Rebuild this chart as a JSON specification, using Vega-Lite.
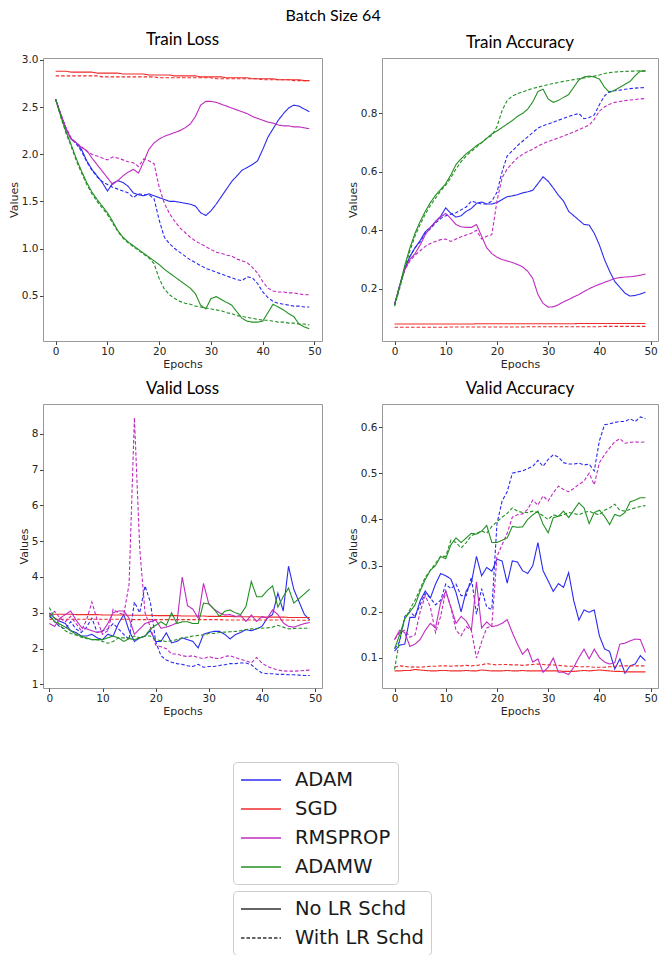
{
"$schema":"https://vega.github.io/schema/vega-lite/v6.json",
"padding":{"left":7,"top":8,"right":0,"bottom":0},
"background":"white",
"title":{"text":"Batch Size 64","anchor":"middle","font":"Lato","fontSize":16,"fontWeight":"normal","color":"#000","offset":6},
"datasets":{
"series":[{"k":"a1","opt":"ADAM","sch":"No LR Schd"},{"k":"a2","opt":"ADAM","sch":"With LR Schd"},{"k":"s1","opt":"SGD","sch":"No LR Schd"},{"k":"s2","opt":"SGD","sch":"With LR Schd"},{"k":"r1","opt":"RMSPROP","sch":"No LR Schd"},{"k":"r2","opt":"RMSPROP","sch":"With LR Schd"},{"k":"w1","opt":"ADAMW","sch":"No LR Schd"},{"k":"w2","opt":"ADAMW","sch":"With LR Schd"}],
"d":[
{"p":"TL","e":0,"a1":2.58,"a2":2.58,"s1":2.88,"s2":2.83,"r1":2.58,"r2":2.58,"w1":2.58,"w2":2.58},
{"p":"TL","e":1,"a1":2.42,"a2":2.42,"s1":2.88,"s2":2.83,"r1":2.42,"r2":2.42,"w1":2.40,"w2":2.39},
{"p":"TL","e":2,"a1":2.27,"a2":2.27,"s1":2.88,"s2":2.83,"r1":2.27,"r2":2.28,"w1":2.24,"w2":2.22},
{"p":"TL","e":3,"a1":2.16,"a2":2.16,"s1":2.87,"s2":2.83,"r1":2.16,"r2":2.17,"w1":2.10,"w2":2.08},
{"p":"TL","e":4,"a1":2.12,"a2":2.11,"s1":2.87,"s2":2.83,"r1":2.12,"r2":2.12,"w1":1.95,"w2":1.93},
{"p":"TL","e":5,"a1":2.05,"a2":2.03,"s1":2.87,"s2":2.83,"r1":2.07,"r2":2.08,"w1":1.82,"w2":1.80},
{"p":"TL","e":6,"a1":1.93,"a2":1.92,"s1":2.87,"s2":2.83,"r1":2.04,"r2":2.03,"w1":1.70,"w2":1.68},
{"p":"TL","e":7,"a1":1.84,"a2":1.83,"s1":2.87,"s2":2.83,"r1":1.96,"r2":2.00,"w1":1.60,"w2":1.58},
{"p":"TL","e":8,"a1":1.77,"a2":1.76,"s1":2.86,"s2":2.83,"r1":1.89,"r2":1.98,"w1":1.52,"w2":1.50},
{"p":"TL","e":9,"a1":1.70,"a2":1.71,"s1":2.86,"s2":2.82,"r1":1.82,"r2":1.96,"w1":1.45,"w2":1.43},
{"p":"TL","e":10,"a1":1.61,"a2":1.68,"s1":2.86,"s2":2.82,"r1":1.75,"r2":1.94,"w1":1.38,"w2":1.36},
{"p":"TL","e":11,"a1":1.69,"a2":1.65,"s1":2.86,"s2":2.82,"r1":1.68,"r2":1.97,"w1":1.29,"w2":1.27},
{"p":"TL","e":12,"a1":1.72,"a2":1.63,"s1":2.86,"s2":2.82,"r1":1.72,"r2":1.96,"w1":1.19,"w2":1.18},
{"p":"TL","e":13,"a1":1.70,"a2":1.61,"s1":2.85,"s2":2.82,"r1":1.77,"r2":1.94,"w1":1.12,"w2":1.11},
{"p":"TL","e":14,"a1":1.66,"a2":1.59,"s1":2.85,"s2":2.82,"r1":1.81,"r2":1.92,"w1":1.07,"w2":1.06},
{"p":"TL","e":15,"a1":1.59,"a2":1.54,"s1":2.85,"s2":2.82,"r1":1.84,"r2":1.91,"w1":1.03,"w2":1.02},
{"p":"TL","e":16,"a1":1.57,"a2":1.58,"s1":2.85,"s2":2.82,"r1":1.80,"r2":1.87,"w1":0.99,"w2":0.98},
{"p":"TL","e":17,"a1":1.56,"a2":1.57,"s1":2.85,"s2":2.82,"r1":1.92,"r2":1.95,"w1":0.95,"w2":0.94},
{"p":"TL","e":18,"a1":1.58,"a2":1.57,"s1":2.84,"s2":2.82,"r1":2.05,"r2":1.93,"w1":0.91,"w2":0.90},
{"p":"TL","e":19,"a1":1.56,"a2":1.53,"s1":2.84,"s2":2.82,"r1":2.12,"r2":1.90,"w1":0.87,"w2":0.84},
{"p":"TL","e":20,"a1":1.54,"a2":1.30,"s1":2.84,"s2":2.81,"r1":2.16,"r2":1.65,"w1":0.83,"w2":0.68},
{"p":"TL","e":21,"a1":1.52,"a2":1.12,"s1":2.84,"s2":2.81,"r1":2.19,"r2":1.48,"w1":0.78,"w2":0.57},
{"p":"TL","e":22,"a1":1.50,"a2":1.05,"s1":2.84,"s2":2.81,"r1":2.21,"r2":1.37,"w1":0.74,"w2":0.51},
{"p":"TL","e":23,"a1":1.50,"a2":1.00,"s1":2.83,"s2":2.81,"r1":2.23,"r2":1.29,"w1":0.70,"w2":0.47},
{"p":"TL","e":24,"a1":1.49,"a2":0.96,"s1":2.83,"s2":2.81,"r1":2.25,"r2":1.22,"w1":0.66,"w2":0.44},
{"p":"TL","e":25,"a1":1.48,"a2":0.92,"s1":2.83,"s2":2.81,"r1":2.28,"r2":1.17,"w1":0.62,"w2":0.42},
{"p":"TL","e":26,"a1":1.47,"a2":0.88,"s1":2.83,"s2":2.81,"r1":2.32,"r2":1.12,"w1":0.58,"w2":0.41},
{"p":"TL","e":27,"a1":1.45,"a2":0.85,"s1":2.83,"s2":2.81,"r1":2.40,"r2":1.08,"w1":0.52,"w2":0.39},
{"p":"TL","e":28,"a1":1.38,"a2":0.82,"s1":2.82,"s2":2.81,"r1":2.52,"r2":1.05,"w1":0.40,"w2":0.38},
{"p":"TL","e":29,"a1":1.35,"a2":0.79,"s1":2.82,"s2":2.81,"r1":2.56,"r2":1.02,"w1":0.36,"w2":0.37},
{"p":"TL","e":30,"a1":1.40,"a2":0.77,"s1":2.82,"s2":2.81,"r1":2.56,"r2":0.99,"w1":0.47,"w2":0.36},
{"p":"TL","e":31,"a1":1.47,"a2":0.75,"s1":2.82,"s2":2.80,"r1":2.55,"r2":0.96,"w1":0.49,"w2":0.35},
{"p":"TL","e":32,"a1":1.55,"a2":0.73,"s1":2.82,"s2":2.80,"r1":2.53,"r2":0.95,"w1":0.46,"w2":0.34},
{"p":"TL","e":33,"a1":1.63,"a2":0.71,"s1":2.81,"s2":2.80,"r1":2.51,"r2":0.93,"w1":0.43,"w2":0.32},
{"p":"TL","e":34,"a1":1.71,"a2":0.69,"s1":2.81,"s2":2.80,"r1":2.49,"r2":0.92,"w1":0.40,"w2":0.31},
{"p":"TL","e":35,"a1":1.77,"a2":0.67,"s1":2.81,"s2":2.80,"r1":2.47,"r2":0.89,"w1":0.33,"w2":0.29},
{"p":"TL","e":36,"a1":1.83,"a2":0.66,"s1":2.81,"s2":2.80,"r1":2.45,"r2":0.87,"w1":0.26,"w2":0.28},
{"p":"TL","e":37,"a1":1.86,"a2":0.70,"s1":2.81,"s2":2.80,"r1":2.43,"r2":0.85,"w1":0.23,"w2":0.27},
{"p":"TL","e":38,"a1":1.89,"a2":0.69,"s1":2.80,"s2":2.80,"r1":2.40,"r2":0.80,"w1":0.22,"w2":0.26},
{"p":"TL","e":39,"a1":1.93,"a2":0.63,"s1":2.80,"s2":2.80,"r1":2.38,"r2":0.74,"w1":0.22,"w2":0.25},
{"p":"TL","e":40,"a1":2.05,"a2":0.54,"s1":2.80,"s2":2.79,"r1":2.36,"r2":0.65,"w1":0.23,"w2":0.24},
{"p":"TL","e":41,"a1":2.18,"a2":0.48,"s1":2.80,"s2":2.79,"r1":2.34,"r2":0.58,"w1":0.32,"w2":0.24},
{"p":"TL","e":42,"a1":2.27,"a2":0.44,"s1":2.80,"s2":2.79,"r1":2.33,"r2":0.55,"w1":0.41,"w2":0.23},
{"p":"TL","e":43,"a1":2.36,"a2":0.42,"s1":2.79,"s2":2.79,"r1":2.31,"r2":0.54,"w1":0.38,"w2":0.22},
{"p":"TL","e":44,"a1":2.43,"a2":0.41,"s1":2.79,"s2":2.79,"r1":2.30,"r2":0.54,"w1":0.35,"w2":0.22},
{"p":"TL","e":45,"a1":2.49,"a2":0.40,"s1":2.79,"s2":2.79,"r1":2.30,"r2":0.53,"w1":0.31,"w2":0.21},
{"p":"TL","e":46,"a1":2.52,"a2":0.39,"s1":2.79,"s2":2.78,"r1":2.29,"r2":0.53,"w1":0.28,"w2":0.21},
{"p":"TL","e":47,"a1":2.51,"a2":0.39,"s1":2.79,"s2":2.78,"r1":2.29,"r2":0.52,"w1":0.20,"w2":0.20},
{"p":"TL","e":48,"a1":2.48,"a2":0.38,"s1":2.78,"s2":2.78,"r1":2.28,"r2":0.51,"w1":0.17,"w2":0.20},
{"p":"TL","e":49,"a1":2.45,"a2":0.38,"s1":2.78,"s2":2.78,"r1":2.27,"r2":0.51,"w1":0.15,"w2":0.19},
{"p":"TA","e":0,"a1":0.145,"a2":0.145,"s1":0.079,"s2":0.068,"r1":0.145,"r2":0.145,"w1":0.145,"w2":0.14},
{"p":"TA","e":1,"a1":0.21,"a2":0.21,"s1":0.079,"s2":0.068,"r1":0.21,"r2":0.21,"w1":0.21,"w2":0.20},
{"p":"TA","e":2,"a1":0.27,"a2":0.27,"s1":0.079,"s2":0.068,"r1":0.265,"r2":0.265,"w1":0.28,"w2":0.27},
{"p":"TA","e":3,"a1":0.31,"a2":0.31,"s1":0.079,"s2":0.068,"r1":0.30,"r2":0.295,"w1":0.34,"w2":0.33},
{"p":"TA","e":4,"a1":0.34,"a2":0.34,"s1":0.079,"s2":0.068,"r1":0.32,"r2":0.315,"w1":0.39,"w2":0.38},
{"p":"TA","e":5,"a1":0.365,"a2":0.36,"s1":0.079,"s2":0.068,"r1":0.35,"r2":0.33,"w1":0.43,"w2":0.42},
{"p":"TA","e":6,"a1":0.395,"a2":0.39,"s1":0.079,"s2":0.068,"r1":0.385,"r2":0.345,"w1":0.465,"w2":0.455},
{"p":"TA","e":7,"a1":0.41,"a2":0.405,"s1":0.079,"s2":0.068,"r1":0.41,"r2":0.355,"w1":0.495,"w2":0.485},
{"p":"TA","e":8,"a1":0.43,"a2":0.425,"s1":0.079,"s2":0.068,"r1":0.43,"r2":0.362,"w1":0.52,"w2":0.51},
{"p":"TA","e":9,"a1":0.448,"a2":0.44,"s1":0.079,"s2":0.068,"r1":0.445,"r2":0.368,"w1":0.54,"w2":0.535},
{"p":"TA","e":10,"a1":0.477,"a2":0.45,"s1":0.079,"s2":0.068,"r1":0.458,"r2":0.37,"w1":0.56,"w2":0.555},
{"p":"TA","e":11,"a1":0.458,"a2":0.455,"s1":0.079,"s2":0.069,"r1":0.44,"r2":0.362,"w1":0.59,"w2":0.58},
{"p":"TA","e":12,"a1":0.445,"a2":0.46,"s1":0.079,"s2":0.069,"r1":0.42,"r2":0.37,"w1":0.625,"w2":0.61},
{"p":"TA","e":13,"a1":0.45,"a2":0.47,"s1":0.079,"s2":0.069,"r1":0.412,"r2":0.378,"w1":0.645,"w2":0.635},
{"p":"TA","e":14,"a1":0.465,"a2":0.48,"s1":0.079,"s2":0.069,"r1":0.41,"r2":0.384,"w1":0.662,"w2":0.655},
{"p":"TA","e":15,"a1":0.475,"a2":0.50,"s1":0.079,"s2":0.069,"r1":0.41,"r2":0.39,"w1":0.675,"w2":0.67},
{"p":"TA","e":16,"a1":0.492,"a2":0.495,"s1":0.080,"s2":0.069,"r1":0.42,"r2":0.40,"w1":0.69,"w2":0.685},
{"p":"TA","e":17,"a1":0.497,"a2":0.49,"s1":0.080,"s2":0.069,"r1":0.38,"r2":0.37,"w1":0.70,"w2":0.70},
{"p":"TA","e":18,"a1":0.49,"a2":0.49,"s1":0.080,"s2":0.069,"r1":0.34,"r2":0.38,"w1":0.715,"w2":0.715},
{"p":"TA","e":19,"a1":0.49,"a2":0.50,"s1":0.080,"s2":0.069,"r1":0.32,"r2":0.385,"w1":0.73,"w2":0.725},
{"p":"TA","e":20,"a1":0.495,"a2":0.53,"s1":0.080,"s2":0.069,"r1":0.308,"r2":0.50,"w1":0.74,"w2":0.755},
{"p":"TA","e":21,"a1":0.505,"a2":0.60,"s1":0.080,"s2":0.069,"r1":0.30,"r2":0.58,"w1":0.752,"w2":0.81},
{"p":"TA","e":22,"a1":0.515,"a2":0.655,"s1":0.080,"s2":0.069,"r1":0.295,"r2":0.61,"w1":0.764,"w2":0.845},
{"p":"TA","e":23,"a1":0.518,"a2":0.672,"s1":0.080,"s2":0.069,"r1":0.29,"r2":0.63,"w1":0.776,"w2":0.86},
{"p":"TA","e":24,"a1":0.522,"a2":0.69,"s1":0.080,"s2":0.069,"r1":0.283,"r2":0.648,"w1":0.79,"w2":0.868},
{"p":"TA","e":25,"a1":0.528,"a2":0.705,"s1":0.080,"s2":0.069,"r1":0.275,"r2":0.66,"w1":0.80,"w2":0.874},
{"p":"TA","e":26,"a1":0.532,"a2":0.72,"s1":0.080,"s2":0.070,"r1":0.26,"r2":0.67,"w1":0.815,"w2":0.88},
{"p":"TA","e":27,"a1":0.537,"a2":0.735,"s1":0.080,"s2":0.070,"r1":0.235,"r2":0.678,"w1":0.84,"w2":0.886},
{"p":"TA","e":28,"a1":0.56,"a2":0.75,"s1":0.080,"s2":0.070,"r1":0.18,"r2":0.688,"w1":0.875,"w2":0.89},
{"p":"TA","e":29,"a1":0.583,"a2":0.758,"s1":0.080,"s2":0.070,"r1":0.15,"r2":0.697,"w1":0.883,"w2":0.895},
{"p":"TA","e":30,"a1":0.568,"a2":0.764,"s1":0.080,"s2":0.070,"r1":0.137,"r2":0.704,"w1":0.85,"w2":0.899},
{"p":"TA","e":31,"a1":0.545,"a2":0.77,"s1":0.080,"s2":0.070,"r1":0.138,"r2":0.71,"w1":0.838,"w2":0.903},
{"p":"TA","e":32,"a1":0.52,"a2":0.777,"s1":0.080,"s2":0.070,"r1":0.145,"r2":0.716,"w1":0.845,"w2":0.906},
{"p":"TA","e":33,"a1":0.50,"a2":0.783,"s1":0.080,"s2":0.070,"r1":0.155,"r2":0.723,"w1":0.855,"w2":0.91},
{"p":"TA","e":34,"a1":0.465,"a2":0.79,"s1":0.080,"s2":0.070,"r1":0.163,"r2":0.73,"w1":0.865,"w2":0.913},
{"p":"TA","e":35,"a1":0.45,"a2":0.795,"s1":0.080,"s2":0.070,"r1":0.172,"r2":0.737,"w1":0.89,"w2":0.916},
{"p":"TA","e":36,"a1":0.435,"a2":0.80,"s1":0.081,"s2":0.070,"r1":0.18,"r2":0.745,"w1":0.915,"w2":0.919},
{"p":"TA","e":37,"a1":0.42,"a2":0.782,"s1":0.081,"s2":0.070,"r1":0.19,"r2":0.752,"w1":0.925,"w2":0.922},
{"p":"TA","e":38,"a1":0.418,"a2":0.786,"s1":0.081,"s2":0.070,"r1":0.20,"r2":0.76,"w1":0.928,"w2":0.925},
{"p":"TA","e":39,"a1":0.39,"a2":0.795,"s1":0.081,"s2":0.070,"r1":0.208,"r2":0.78,"w1":0.925,"w2":0.928},
{"p":"TA","e":40,"a1":0.35,"a2":0.83,"s1":0.081,"s2":0.070,"r1":0.215,"r2":0.808,"w1":0.918,"w2":0.932},
{"p":"TA","e":41,"a1":0.30,"a2":0.86,"s1":0.081,"s2":0.071,"r1":0.222,"r2":0.822,"w1":0.89,"w2":0.937},
{"p":"TA","e":42,"a1":0.26,"a2":0.875,"s1":0.081,"s2":0.071,"r1":0.228,"r2":0.832,"w1":0.872,"w2":0.94},
{"p":"TA","e":43,"a1":0.225,"a2":0.878,"s1":0.081,"s2":0.071,"r1":0.235,"r2":0.838,"w1":0.88,"w2":0.942},
{"p":"TA","e":44,"a1":0.205,"a2":0.88,"s1":0.081,"s2":0.071,"r1":0.238,"r2":0.841,"w1":0.89,"w2":0.943},
{"p":"TA","e":45,"a1":0.185,"a2":0.883,"s1":0.081,"s2":0.071,"r1":0.24,"r2":0.844,"w1":0.90,"w2":0.944},
{"p":"TA","e":46,"a1":0.175,"a2":0.885,"s1":0.081,"s2":0.071,"r1":0.241,"r2":0.846,"w1":0.91,"w2":0.945},
{"p":"TA","e":47,"a1":0.177,"a2":0.887,"s1":0.081,"s2":0.071,"r1":0.243,"r2":0.848,"w1":0.93,"w2":0.945},
{"p":"TA","e":48,"a1":0.182,"a2":0.888,"s1":0.081,"s2":0.071,"r1":0.246,"r2":0.85,"w1":0.945,"w2":0.946},
{"p":"TA","e":49,"a1":0.188,"a2":0.889,"s1":0.081,"s2":0.071,"r1":0.25,"r2":0.851,"w1":0.945,"w2":0.946},
{"p":"VL","e":0,"a1":3.0,"a2":2.9,"s1":2.96,"s2":2.82,"r1":2.7,"r2":2.9,"w1":2.95,"w2":3.15},
{"p":"VL","e":1,"a1":2.85,"a2":2.75,"s1":2.96,"s2":2.82,"r1":2.62,"r2":3.04,"w1":2.75,"w2":2.85},
{"p":"VL","e":2,"a1":2.76,"a2":2.6,"s1":2.96,"s2":2.82,"r1":2.85,"r2":2.85,"w1":2.68,"w2":2.65},
{"p":"VL","e":3,"a1":2.7,"a2":2.55,"s1":2.96,"s2":2.82,"r1":2.95,"r2":2.75,"w1":2.6,"w2":2.5},
{"p":"VL","e":4,"a1":2.5,"a2":2.75,"s1":2.96,"s2":2.82,"r1":3.05,"r2":2.9,"w1":2.5,"w2":2.42},
{"p":"VL","e":5,"a1":2.45,"a2":2.55,"s1":2.95,"s2":2.82,"r1":2.8,"r2":2.7,"w1":2.4,"w2":2.38},
{"p":"VL","e":6,"a1":2.35,"a2":2.45,"s1":2.95,"s2":2.82,"r1":2.6,"r2":2.5,"w1":2.35,"w2":2.32},
{"p":"VL","e":7,"a1":2.35,"a2":2.6,"s1":2.95,"s2":2.82,"r1":2.55,"r2":2.8,"w1":2.3,"w2":2.28},
{"p":"VL","e":8,"a1":2.4,"a2":2.85,"s1":2.95,"s2":2.82,"r1":2.5,"r2":3.3,"w1":2.25,"w2":2.25},
{"p":"VL","e":9,"a1":2.3,"a2":2.45,"s1":2.95,"s2":2.82,"r1":2.45,"r2":2.8,"w1":2.25,"w2":2.25},
{"p":"VL","e":10,"a1":2.25,"a2":2.5,"s1":2.94,"s2":2.82,"r1":2.48,"r2":2.4,"w1":2.25,"w2":2.2},
{"p":"VL","e":11,"a1":2.4,"a2":2.55,"s1":2.94,"s2":2.82,"r1":2.7,"r2":2.5,"w1":2.3,"w2":2.15},
{"p":"VL","e":12,"a1":2.35,"a2":2.7,"s1":2.94,"s2":2.82,"r1":3.0,"r2":3.1,"w1":2.35,"w2":2.2},
{"p":"VL","e":13,"a1":2.7,"a2":2.55,"s1":2.94,"s2":2.82,"r1":3.05,"r2":3.0,"w1":2.3,"w2":2.3},
{"p":"VL","e":14,"a1":2.95,"a2":2.4,"s1":2.94,"s2":2.82,"r1":3.05,"r2":2.95,"w1":2.2,"w2":2.3},
{"p":"VL","e":15,"a1":2.5,"a2":2.25,"s1":2.93,"s2":2.82,"r1":2.85,"r2":3.8,"w1":2.28,"w2":2.3},
{"p":"VL","e":16,"a1":2.2,"a2":3.3,"s1":2.93,"s2":2.81,"r1":2.4,"r2":8.45,"w1":2.25,"w2":2.35},
{"p":"VL","e":17,"a1":2.3,"a2":3.0,"s1":2.93,"s2":2.81,"r1":2.55,"r2":4.8,"w1":2.3,"w2":2.3},
{"p":"VL","e":18,"a1":2.35,"a2":3.75,"s1":2.93,"s2":2.81,"r1":2.7,"r2":3.0,"w1":2.35,"w2":2.35},
{"p":"VL","e":19,"a1":2.5,"a2":3.3,"s1":2.93,"s2":2.81,"r1":2.75,"r2":2.6,"w1":2.55,"w2":2.35},
{"p":"VL","e":20,"a1":2.2,"a2":2.2,"s1":2.92,"s2":2.81,"r1":2.8,"r2":2.1,"w1":2.65,"w2":2.25},
{"p":"VL","e":21,"a1":2.2,"a2":1.8,"s1":2.92,"s2":2.81,"r1":2.57,"r2":2.05,"w1":2.75,"w2":2.22},
{"p":"VL","e":22,"a1":2.44,"a2":1.68,"s1":2.92,"s2":2.81,"r1":2.6,"r2":2.0,"w1":2.65,"w2":2.2},
{"p":"VL","e":23,"a1":2.16,"a2":1.62,"s1":2.92,"s2":2.81,"r1":2.65,"r2":1.85,"w1":3.0,"w2":2.22},
{"p":"VL","e":24,"a1":2.2,"a2":1.58,"s1":2.92,"s2":2.81,"r1":2.72,"r2":1.85,"w1":2.7,"w2":2.25},
{"p":"VL","e":25,"a1":2.3,"a2":1.56,"s1":2.91,"s2":2.81,"r1":4.0,"r2":1.8,"w1":2.75,"w2":2.3},
{"p":"VL","e":26,"a1":2.25,"a2":1.52,"s1":2.91,"s2":2.81,"r1":3.2,"r2":1.78,"w1":2.75,"w2":2.32},
{"p":"VL","e":27,"a1":2.2,"a2":1.5,"s1":2.91,"s2":2.81,"r1":3.1,"r2":1.8,"w1":2.7,"w2":2.35},
{"p":"VL","e":28,"a1":2.02,"a2":1.56,"s1":2.91,"s2":2.81,"r1":2.85,"r2":1.75,"w1":2.7,"w2":2.37},
{"p":"VL","e":29,"a1":2.4,"a2":1.48,"s1":2.91,"s2":2.81,"r1":3.82,"r2":1.72,"w1":3.27,"w2":2.38},
{"p":"VL","e":30,"a1":2.45,"a2":1.5,"s1":2.90,"s2":2.81,"r1":3.25,"r2":1.78,"w1":3.25,"w2":2.42},
{"p":"VL","e":31,"a1":2.48,"a2":1.5,"s1":2.90,"s2":2.81,"r1":3.1,"r2":1.73,"w1":3.1,"w2":2.42},
{"p":"VL","e":32,"a1":2.48,"a2":1.53,"s1":2.90,"s2":2.81,"r1":3.0,"r2":1.72,"w1":2.9,"w2":2.45},
{"p":"VL","e":33,"a1":2.4,"a2":1.55,"s1":2.90,"s2":2.80,"r1":2.94,"r2":1.78,"w1":3.04,"w2":2.46},
{"p":"VL","e":34,"a1":2.27,"a2":1.58,"s1":2.90,"s2":2.80,"r1":2.95,"r2":1.8,"w1":3.08,"w2":2.47},
{"p":"VL","e":35,"a1":2.39,"a2":1.58,"s1":2.89,"s2":2.80,"r1":2.9,"r2":1.75,"w1":3.0,"w2":2.48},
{"p":"VL","e":36,"a1":2.45,"a2":1.6,"s1":2.89,"s2":2.80,"r1":2.92,"r2":1.7,"w1":2.95,"w2":2.5},
{"p":"VL","e":37,"a1":2.53,"a2":1.6,"s1":2.89,"s2":2.80,"r1":2.76,"r2":1.66,"w1":3.18,"w2":2.53},
{"p":"VL","e":38,"a1":2.5,"a2":1.55,"s1":2.89,"s2":2.80,"r1":2.94,"r2":1.6,"w1":3.87,"w2":2.55},
{"p":"VL","e":39,"a1":2.55,"a2":1.42,"s1":2.89,"s2":2.80,"r1":2.76,"r2":1.75,"w1":3.45,"w2":2.56},
{"p":"VL","e":40,"a1":2.62,"a2":1.32,"s1":2.88,"s2":2.80,"r1":2.9,"r2":1.6,"w1":3.45,"w2":2.57},
{"p":"VL","e":41,"a1":2.85,"a2":1.3,"s1":2.88,"s2":2.80,"r1":2.85,"r2":1.5,"w1":3.62,"w2":2.58},
{"p":"VL","e":42,"a1":2.95,"a2":1.3,"s1":2.88,"s2":2.80,"r1":3.08,"r2":1.45,"w1":3.75,"w2":2.6},
{"p":"VL","e":43,"a1":3.55,"a2":1.28,"s1":2.88,"s2":2.80,"r1":2.95,"r2":1.4,"w1":3.16,"w2":2.65},
{"p":"VL","e":44,"a1":3.05,"a2":1.28,"s1":2.88,"s2":2.80,"r1":2.72,"r2":1.38,"w1":3.45,"w2":2.6},
{"p":"VL","e":45,"a1":4.3,"a2":1.27,"s1":2.87,"s2":2.80,"r1":2.62,"r2":1.37,"w1":3.69,"w2":2.55},
{"p":"VL","e":46,"a1":3.65,"a2":1.27,"s1":2.87,"s2":2.79,"r1":2.6,"r2":1.37,"w1":3.27,"w2":2.56},
{"p":"VL","e":47,"a1":3.3,"a2":1.26,"s1":2.87,"s2":2.79,"r1":2.65,"r2":1.38,"w1":3.4,"w2":2.57},
{"p":"VL","e":48,"a1":2.95,"a2":1.25,"s1":2.87,"s2":2.79,"r1":2.7,"r2":1.39,"w1":3.53,"w2":2.57},
{"p":"VL","e":49,"a1":2.8,"a2":1.25,"s1":2.87,"s2":2.79,"r1":2.73,"r2":1.4,"w1":3.66,"w2":2.57},
{"p":"VA","e":0,"a1":0.115,"a2":0.12,"s1":0.072,"s2":0.08,"r1":0.14,"r2":0.14,"w1":0.12,"w2":0.075},
{"p":"VA","e":1,"a1":0.128,"a2":0.135,"s1":0.072,"s2":0.083,"r1":0.16,"r2":0.155,"w1":0.15,"w2":0.14},
{"p":"VA","e":2,"a1":0.13,"a2":0.19,"s1":0.073,"s2":0.082,"r1":0.155,"r2":0.16,"w1":0.185,"w2":0.185},
{"p":"VA","e":3,"a1":0.188,"a2":0.2,"s1":0.073,"s2":0.08,"r1":0.125,"r2":0.145,"w1":0.2,"w2":0.205},
{"p":"VA","e":4,"a1":0.188,"a2":0.19,"s1":0.075,"s2":0.081,"r1":0.13,"r2":0.15,"w1":0.215,"w2":0.225},
{"p":"VA","e":5,"a1":0.224,"a2":0.215,"s1":0.074,"s2":0.08,"r1":0.14,"r2":0.2,"w1":0.245,"w2":0.25},
{"p":"VA","e":6,"a1":0.245,"a2":0.24,"s1":0.073,"s2":0.081,"r1":0.16,"r2":0.235,"w1":0.27,"w2":0.275},
{"p":"VA","e":7,"a1":0.23,"a2":0.23,"s1":0.072,"s2":0.082,"r1":0.175,"r2":0.21,"w1":0.29,"w2":0.29},
{"p":"VA","e":8,"a1":0.26,"a2":0.215,"s1":0.072,"s2":0.082,"r1":0.165,"r2":0.155,"w1":0.30,"w2":0.305},
{"p":"VA","e":9,"a1":0.283,"a2":0.225,"s1":0.073,"s2":0.083,"r1":0.22,"r2":0.19,"w1":0.32,"w2":0.32},
{"p":"VA","e":10,"a1":0.278,"a2":0.26,"s1":0.073,"s2":0.083,"r1":0.245,"r2":0.245,"w1":0.315,"w2":0.32},
{"p":"VA","e":11,"a1":0.271,"a2":0.25,"s1":0.072,"s2":0.082,"r1":0.21,"r2":0.21,"w1":0.345,"w2":0.355},
{"p":"VA","e":12,"a1":0.242,"a2":0.26,"s1":0.072,"s2":0.083,"r1":0.175,"r2":0.16,"w1":0.36,"w2":0.35},
{"p":"VA","e":13,"a1":0.20,"a2":0.235,"s1":0.072,"s2":0.083,"r1":0.19,"r2":0.148,"w1":0.35,"w2":0.338},
{"p":"VA","e":14,"a1":0.245,"a2":0.235,"s1":0.073,"s2":0.084,"r1":0.18,"r2":0.168,"w1":0.36,"w2":0.35},
{"p":"VA","e":15,"a1":0.263,"a2":0.275,"s1":0.072,"s2":0.083,"r1":0.16,"r2":0.16,"w1":0.37,"w2":0.365},
{"p":"VA","e":16,"a1":0.32,"a2":0.195,"s1":0.072,"s2":0.084,"r1":0.265,"r2":0.10,"w1":0.368,"w2":0.37},
{"p":"VA","e":17,"a1":0.278,"a2":0.25,"s1":0.074,"s2":0.085,"r1":0.165,"r2":0.135,"w1":0.375,"w2":0.375},
{"p":"VA","e":18,"a1":0.296,"a2":0.21,"s1":0.073,"s2":0.088,"r1":0.178,"r2":0.165,"w1":0.387,"w2":0.37},
{"p":"VA","e":19,"a1":0.288,"a2":0.205,"s1":0.072,"s2":0.086,"r1":0.168,"r2":0.17,"w1":0.35,"w2":0.385},
{"p":"VA","e":20,"a1":0.314,"a2":0.39,"s1":0.072,"s2":0.085,"r1":0.17,"r2":0.32,"w1":0.35,"w2":0.395},
{"p":"VA","e":21,"a1":0.31,"a2":0.44,"s1":0.072,"s2":0.086,"r1":0.175,"r2":0.345,"w1":0.355,"w2":0.405},
{"p":"VA","e":22,"a1":0.262,"a2":0.46,"s1":0.073,"s2":0.086,"r1":0.183,"r2":0.37,"w1":0.36,"w2":0.413},
{"p":"VA","e":23,"a1":0.31,"a2":0.50,"s1":0.072,"s2":0.085,"r1":0.155,"r2":0.405,"w1":0.385,"w2":0.425},
{"p":"VA","e":24,"a1":0.308,"a2":0.503,"s1":0.072,"s2":0.085,"r1":0.13,"r2":0.41,"w1":0.383,"w2":0.418},
{"p":"VA","e":25,"a1":0.289,"a2":0.505,"s1":0.073,"s2":0.084,"r1":0.108,"r2":0.412,"w1":0.384,"w2":0.415},
{"p":"VA","e":26,"a1":0.283,"a2":0.51,"s1":0.072,"s2":0.085,"r1":0.12,"r2":0.422,"w1":0.40,"w2":0.415},
{"p":"VA","e":27,"a1":0.30,"a2":0.515,"s1":0.072,"s2":0.086,"r1":0.091,"r2":0.442,"w1":0.41,"w2":0.418},
{"p":"VA","e":28,"a1":0.35,"a2":0.528,"s1":0.072,"s2":0.087,"r1":0.098,"r2":0.431,"w1":0.418,"w2":0.415},
{"p":"VA","e":29,"a1":0.289,"a2":0.515,"s1":0.072,"s2":0.086,"r1":0.069,"r2":0.451,"w1":0.39,"w2":0.408},
{"p":"VA","e":30,"a1":0.267,"a2":0.53,"s1":0.072,"s2":0.085,"r1":0.08,"r2":0.44,"w1":0.371,"w2":0.40},
{"p":"VA","e":31,"a1":0.244,"a2":0.54,"s1":0.072,"s2":0.085,"r1":0.10,"r2":0.458,"w1":0.404,"w2":0.41},
{"p":"VA","e":32,"a1":0.261,"a2":0.535,"s1":0.072,"s2":0.084,"r1":0.069,"r2":0.472,"w1":0.407,"w2":0.407},
{"p":"VA","e":33,"a1":0.253,"a2":0.523,"s1":0.071,"s2":0.083,"r1":0.069,"r2":0.465,"w1":0.418,"w2":0.41},
{"p":"VA","e":34,"a1":0.285,"a2":0.52,"s1":0.071,"s2":0.082,"r1":0.064,"r2":0.46,"w1":0.404,"w2":0.415},
{"p":"VA","e":35,"a1":0.224,"a2":0.52,"s1":0.071,"s2":0.082,"r1":0.08,"r2":0.467,"w1":0.42,"w2":0.413},
{"p":"VA","e":36,"a1":0.182,"a2":0.522,"s1":0.072,"s2":0.081,"r1":0.101,"r2":0.476,"w1":0.436,"w2":0.41},
{"p":"VA","e":37,"a1":0.204,"a2":0.518,"s1":0.073,"s2":0.081,"r1":0.119,"r2":0.483,"w1":0.425,"w2":0.415},
{"p":"VA","e":38,"a1":0.199,"a2":0.52,"s1":0.072,"s2":0.081,"r1":0.098,"r2":0.50,"w1":0.391,"w2":0.418},
{"p":"VA","e":39,"a1":0.204,"a2":0.505,"s1":0.073,"s2":0.08,"r1":0.119,"r2":0.475,"w1":0.415,"w2":0.413},
{"p":"VA","e":40,"a1":0.148,"a2":0.57,"s1":0.074,"s2":0.08,"r1":0.101,"r2":0.523,"w1":0.42,"w2":0.41},
{"p":"VA","e":41,"a1":0.12,"a2":0.605,"s1":0.073,"s2":0.08,"r1":0.091,"r2":0.54,"w1":0.407,"w2":0.42},
{"p":"VA","e":42,"a1":0.114,"a2":0.607,"s1":0.072,"s2":0.081,"r1":0.087,"r2":0.555,"w1":0.389,"w2":0.425},
{"p":"VA","e":43,"a1":0.076,"a2":0.61,"s1":0.071,"s2":0.082,"r1":0.09,"r2":0.568,"w1":0.411,"w2":0.433},
{"p":"VA","e":44,"a1":0.098,"a2":0.612,"s1":0.071,"s2":0.083,"r1":0.13,"r2":0.575,"w1":0.407,"w2":0.42},
{"p":"VA","e":45,"a1":0.067,"a2":0.612,"s1":0.070,"s2":0.083,"r1":0.132,"r2":0.565,"w1":0.415,"w2":0.418},
{"p":"VA","e":46,"a1":0.083,"a2":0.618,"s1":0.070,"s2":0.083,"r1":0.137,"r2":0.567,"w1":0.438,"w2":0.422},
{"p":"VA","e":47,"a1":0.087,"a2":0.612,"s1":0.070,"s2":0.083,"r1":0.141,"r2":0.568,"w1":0.442,"w2":0.425},
{"p":"VA","e":48,"a1":0.105,"a2":0.622,"s1":0.070,"s2":0.083,"r1":0.14,"r2":0.567,"w1":0.447,"w2":0.428},
{"p":"VA","e":49,"a1":0.094,"a2":0.618,"s1":0.070,"s2":0.083,"r1":0.112,"r2":0.568,"w1":0.447,"w2":0.43}
]},
"data":{"name":"d"},
"transform":[
{"fold":["a1","a2","s1","s2","r1","r2","w1","w2"],"as":["k","v"]},
{"lookup":"k","from":{"data":{"name":"series"},"key":"k","fields":["opt","sch"]}}
],
"spacing":9,
"vconcat":[
{"hconcat":[
{"title":"Train Loss","width":279,"height":283,
"transform":[{"filter":"datum.p==='TL'"}],
"mark":{"type":"line","strokeWidth":1.1},
"encoding":{
"x":{"field":"e","type":"quantitative","scale":{"domain":[-2.45,51.45],"nice":false,"zero":false},"axis":{"values":[0,10,20,30,40,50],"format":"d","title":"Epochs"}},
"y":{"field":"v","type":"quantitative","scale":{"domain":[0.02,3.02],"nice":false,"zero":false},"axis":{"values":[0.5,1,1.5,2,2.5,3],"format":".1f","title":"Values"}},
"color":{"field":"opt","type":"nominal","scale":{"domain":["ADAM","SGD","RMSPROP","ADAMW"],"range":["#2b2bf0","#f02b2b","#c02bc0","#239023"]},"legend":{"orient":"none","legendX":190,"legendY":704,"title":null}},
"strokeDash":{"field":"sch","type":"nominal","scale":{"domain":["No LR Schd","With LR Schd"],"range":[[1,0],[3.5,2]]},"legend":{"orient":"none","legendX":190,"legendY":833,"title":null,"symbolStrokeColor":"#333"}}
}},
{"title":"Train Accuracy","width":276,"height":283,
"transform":[{"filter":"datum.p==='TA'"}],
"mark":{"type":"line","strokeWidth":1.1},
"encoding":{
"x":{"field":"e","type":"quantitative","scale":{"domain":[-2.45,51.45],"nice":false,"zero":false},"axis":{"values":[0,10,20,30,40,50],"format":"d","title":"Epochs"}},
"y":{"field":"v","type":"quantitative","scale":{"domain":[0.021,0.99],"nice":false,"zero":false},"axis":{"values":[0.2,0.4,0.6,0.8],"format":".1f","title":"Values"}},
"color":{"field":"opt","type":"nominal","scale":{"domain":["ADAM","SGD","RMSPROP","ADAMW"],"range":["#2b2bf0","#f02b2b","#c02bc0","#239023"]},"legend":{"orient":"none","legendX":190,"legendY":704,"title":null}},
"strokeDash":{"field":"sch","type":"nominal","scale":{"domain":["No LR Schd","With LR Schd"],"range":[[1,0],[3.5,2]]},"legend":{"orient":"none","legendX":190,"legendY":833,"title":null,"symbolStrokeColor":"#333"}}
}}
],"spacing":23},
{"hconcat":[
{"title":"Valid Loss","width":279,"height":284,
"transform":[{"filter":"datum.p==='VL'"}],
"mark":{"type":"line","strokeWidth":1.1},
"encoding":{
"x":{"field":"e","type":"quantitative","scale":{"domain":[-1.2,51.3],"nice":false,"zero":false},"axis":{"values":[0,10,20,30,40,50],"format":"d","title":"Epochs"}},
"y":{"field":"v","type":"quantitative","scale":{"domain":[0.9,8.83],"nice":false,"zero":false},"axis":{"values":[1,2,3,4,5,6,7,8],"format":"d","title":"Values"}},
"color":{"field":"opt","type":"nominal","scale":{"domain":["ADAM","SGD","RMSPROP","ADAMW"],"range":["#2b2bf0","#f02b2b","#c02bc0","#239023"]},"legend":{"orient":"none","legendX":190,"legendY":704,"title":null}},
"strokeDash":{"field":"sch","type":"nominal","scale":{"domain":["No LR Schd","With LR Schd"],"range":[[1,0],[3.5,2]]},"legend":{"orient":"none","legendX":190,"legendY":833,"title":null,"symbolStrokeColor":"#333"}}
}},
{"title":"Valid Accuracy","width":276,"height":284,
"transform":[{"filter":"datum.p==='VA'"}],
"mark":{"type":"line","strokeWidth":1.1},
"encoding":{
"x":{"field":"e","type":"quantitative","scale":{"domain":[-2.45,51.45],"nice":false,"zero":false},"axis":{"values":[0,10,20,30,40,50],"format":"d","title":"Epochs"}},
"y":{"field":"v","type":"quantitative","scale":{"domain":[0.035,0.65],"nice":false,"zero":false},"axis":{"values":[0.1,0.2,0.3,0.4,0.5,0.6],"format":".1f","title":"Values"}},
"color":{"field":"opt","type":"nominal","scale":{"domain":["ADAM","SGD","RMSPROP","ADAMW"],"range":["#2b2bf0","#f02b2b","#c02bc0","#239023"]},"legend":{"orient":"none","legendX":190,"legendY":704,"title":null}},
"strokeDash":{"field":"sch","type":"nominal","scale":{"domain":["No LR Schd","With LR Schd"],"range":[[1,0],[3.5,2]]},"legend":{"orient":"none","legendX":190,"legendY":833,"title":null,"symbolStrokeColor":"#333"}}
}}
],"spacing":23}
],
"config":{
"view":{"stroke":"#999","strokeWidth":1},
"title":{"font":"Lato","fontSize":17,"fontWeight":"normal","color":"#000","offset":6},
"axis":{"labelFont":"DejaVu Sans","labelFontSize":10.5,"labelColor":"#262626","titleFont":"DejaVu Sans","titleFontSize":11,"titleFontWeight":"normal","titleColor":"#262626","domain":false,"grid":false,"ticks":true,"tickColor":"#444","tickSize":3.5,"labelPadding":1.5,"titlePadding":2},
"legend":{"labelFont":"DejaVu Sans","labelFontSize":19.5,"labelColor":"#1a1a1a","symbolType":"M-2,0H2","symbolSize":400,"symbolOffset":10,"symbolStrokeWidth":1.5,"strokeColor":"#cccccc","cornerRadius":4,"padding":7,"rowPadding":8,"labelOffset":23,"fillColor":"white","direction":"vertical"}
}
}
